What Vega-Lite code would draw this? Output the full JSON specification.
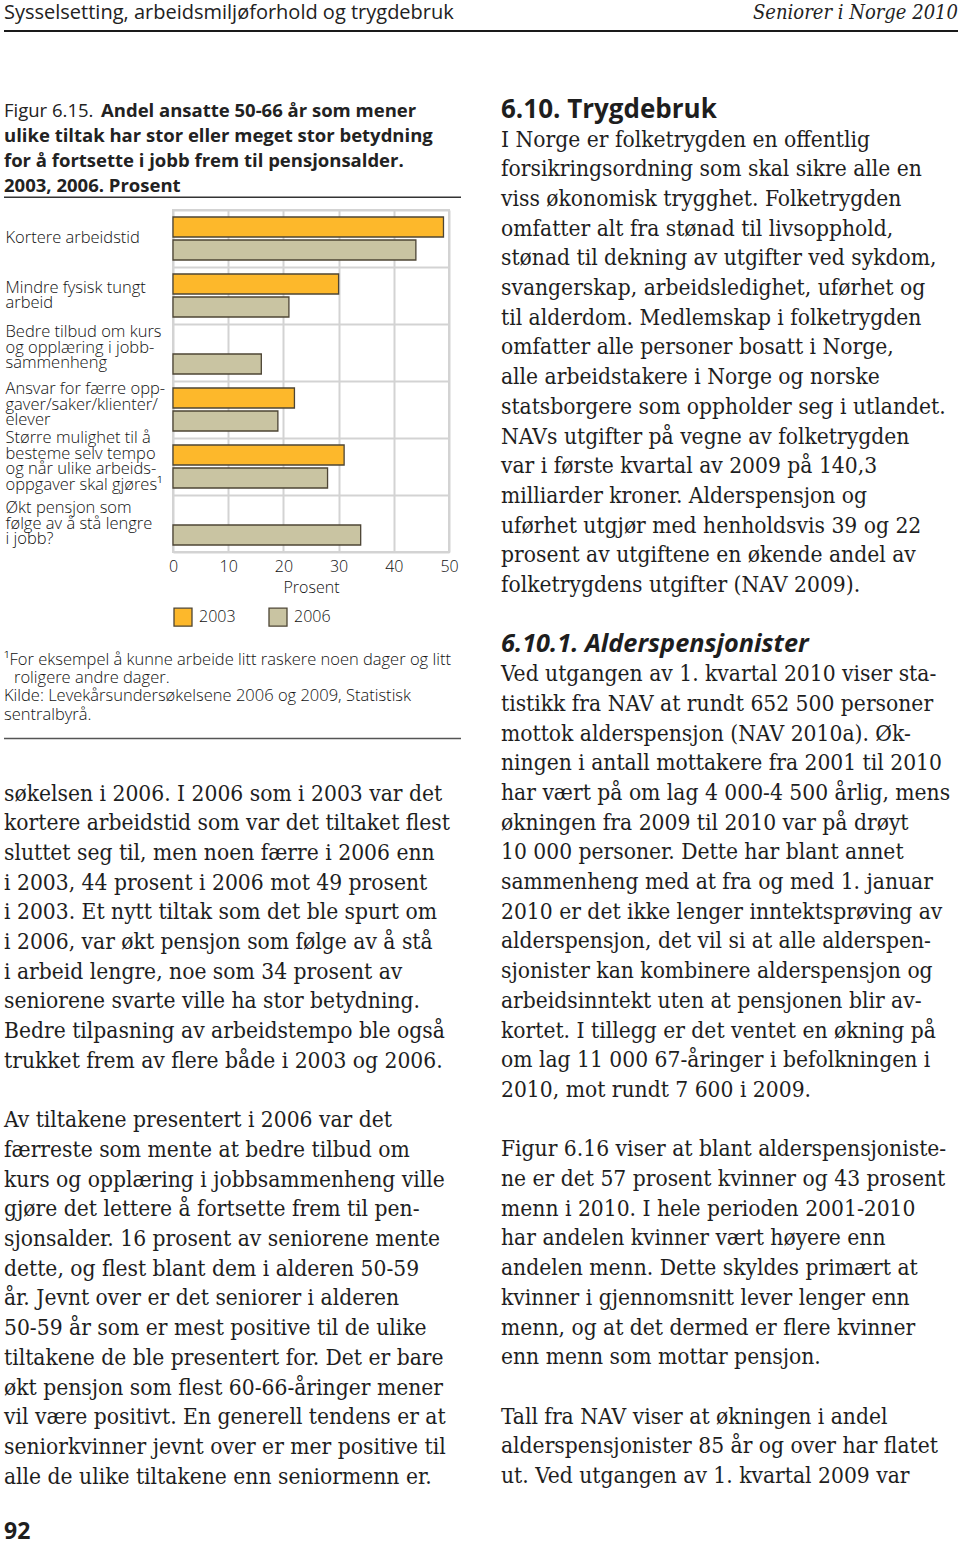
{
  "$schema": "https://vega.github.io/schema/vega-lite/v6.json",
  "padding": {"left": 3, "right": 3, "top": 0, "bottom": 0},
  "background": "white",
  "config": {"view": {"stroke": null}},
  "spacing": 63,
  "resolve": {"scale": {"color": "independent"}, "legend": {"color": "independent"}},
  "datasets": {
    "tiltak": [
      {"tiltak": "Kortere arbeidstid", "år": "2003", "prosent": 49},
      {"tiltak": "Kortere arbeidstid", "år": "2006", "prosent": 44},
      {"tiltak": "Mindre fysisk tungt|arbeid", "år": "2003", "prosent": 30},
      {"tiltak": "Mindre fysisk tungt|arbeid", "år": "2006", "prosent": 21},
      {"tiltak": "Bedre tilbud om kurs|og opplæring i jobb-|sammenheng", "år": "2006", "prosent": 16},
      {"tiltak": "Ansvar for færre opp-|gaver/saker/klienter/|elever", "år": "2003", "prosent": 22},
      {"tiltak": "Ansvar for færre opp-|gaver/saker/klienter/|elever", "år": "2006", "prosent": 19},
      {"tiltak": "Større mulighet til å|besteme selv tempo|og når ulike arbeids-|oppgaver skal gjøres¹", "år": "2003", "prosent": 31},
      {"tiltak": "Større mulighet til å|besteme selv tempo|og når ulike arbeids-|oppgaver skal gjøres¹", "år": "2006", "prosent": 28},
      {"tiltak": "Økt pensjon som|følge av å stå lengre|i jobb?", "år": "2006", "prosent": 34}
    ]
  },
  "vconcat": [
    {
      "width": 954,
      "height": 31,
      "data": {"values": [
        {"side": 0, "text": "Sysselsetting, arbeidsmiljøforhold og trygdebruk"},
        {"side": 1, "text": "Seniorer i Norge 2010"}
      ]},
      "layer": [
        {"transform": [{"filter": "datum.side == 0"}],
         "mark": {"type": "text", "align": "left", "baseline": "alphabetic", "dy": 3, "font": "Open Sans", "fontSize": 20, "color": "#222222"},
         "encoding": {
           "x": {"field": "side", "type": "quantitative", "scale": {"domain": [0, 1]}, "axis": null},
           "text": {"field": "text"}
         }},
        {"transform": [{"filter": "datum.side == 1"}],
         "mark": {"type": "text", "align": "right", "baseline": "alphabetic", "dy": 3, "font": "DejaVu Serif Condensed, DejaVu Serif", "fontStyle": "italic", "fontSize": 20, "color": "#222222"},
         "encoding": {
           "x": {"field": "side", "type": "quantitative", "scale": {"domain": [0, 1]}, "axis": null},
           "text": {"field": "text"}
         }},
        {"data": {"values": [{}]},
         "mark": {"type": "rule", "color": "#1a1a1a", "strokeWidth": 2},
         "encoding": {"y": {"value": "height"}}}
      ]
    },
    {
      "spacing": 39,
      "resolve": {"scale": {"color": "independent"}, "legend": {"color": "independent"}},
      "hconcat": [
        {
          "columns": 1,
          "align": "none",
          "spacing": 10,
          "resolve": {"scale": {"color": "independent"}, "legend": {"color": "independent"}},
          "concat": [
            {
              "width": 457,
              "height": 102.3,
              "data": {"values": [
                {"line": 1, "s": "r", "text": "Figur 6.15."},
                {"line": 1, "s": "b1", "text": "Andel ansatte 50-66 år som mener"},
                {"line": 2, "s": "b", "text": "ulike tiltak har stor eller meget stor betydning"},
                {"line": 3, "s": "b", "text": "for å fortsette i jobb frem til pensjonsalder."},
                {"line": 4, "s": "b", "text": "2003, 2006. Prosent"}
              ]},
              "layer": [
                {"transform": [{"filter": "datum.s == 'r'"}],
                 "mark": {"type": "text", "align": "left", "baseline": "alphabetic", "dy": 8, "font": "Open Sans", "fontSize": 18.5, "color": "#222222"},
                 "encoding": {
                   "x": {"datum": 0, "type": "quantitative", "scale": {"domain": [0, 1]}, "axis": null},
                   "y": {"field": "line", "type": "ordinal", "scale": {"type": "point", "domain": [1, 2, 3, 4], "padding": 0.546}, "axis": null},
                   "text": {"field": "text"}
                 }},
                {"transform": [{"filter": "datum.s == 'b1'"}],
                 "mark": {"type": "text", "align": "left", "baseline": "alphabetic", "dy": 8, "dx": 97, "font": "Open Sans", "fontWeight": "bold", "fontSize": 18.5, "color": "#222222"},
                 "encoding": {
                   "x": {"datum": 0, "type": "quantitative", "scale": {"domain": [0, 1]}, "axis": null},
                   "y": {"field": "line", "type": "ordinal", "scale": {"type": "point", "domain": [1, 2, 3, 4], "padding": 0.546}, "axis": null},
                   "text": {"field": "text"}
                 }},
                {"transform": [{"filter": "datum.s == 'b'"}],
                 "mark": {"type": "text", "align": "left", "baseline": "alphabetic", "dy": 8, "font": "Open Sans", "fontWeight": "bold", "fontSize": 18.5, "color": "#222222"},
                 "encoding": {
                   "x": {"datum": 0, "type": "quantitative", "scale": {"domain": [0, 1]}, "axis": null},
                   "y": {"field": "line", "type": "ordinal", "scale": {"type": "point", "domain": [1, 2, 3, 4], "padding": 0.546}, "axis": null},
                   "text": {"field": "text"}
                 }},
                {"data": {"values": [{}]},
                 "mark": {"type": "rule", "color": "#333333", "strokeWidth": 1.5},
                 "encoding": {"y": {"value": "height"}}}
              ]
            },
            {
              "spacing": 0,
              "resolve": {"scale": {"color": "independent"}, "legend": {"color": "independent"}},
              "hconcat": [
                {
                  "width": 162.5,
                  "height": 342,
                  "data": {"name": "tiltak"},
                  "mark": {"type": "point", "opacity": 0},
                  "encoding": {
                    "y": {
                      "field": "tiltak", "type": "nominal",
                      "sort": [
                        "Kortere arbeidstid",
                        "Mindre fysisk tungt|arbeid",
                        "Bedre tilbud om kurs|og opplæring i jobb-|sammenheng",
                        "Ansvar for færre opp-|gaver/saker/klienter/|elever",
                        "Større mulighet til å|besteme selv tempo|og når ulike arbeids-|oppgaver skal gjøres¹",
                        "Økt pensjon som|følge av å stå lengre|i jobb?"
                      ],
                      "scale": {"type": "band", "paddingInner": 0, "paddingOuter": 0},
                      "axis": {
                        "title": null, "domain": false, "ticks": false, "tickSize": 0, "grid": false,
                        "labelAlign": "left", "labelBaseline": "middle", "labelPadding": -1,
                        "labelExpr": "split(datum.label, '|')", "labelLineHeight": 15.5,
                        "labelOffset": {"expr": "-(length(split(datum.value, '|')) - 1) * 7.75 + (length(split(datum.value, '|')) == 1 ? -1 : length(split(datum.value, '|')) == 2 ? 0 : indexof(datum.value, 'Økt') == 0 ? 0 : -5)"},
                        "labelFont": "Open Sans", "labelFontWeight": 300, "labelFontSize": 16.5, "labelColor": "#111111", "labelLimit": 0
                      }
                    }
                  }
                },
                {
                  "width": 276,
                  "height": 342,
                  "view": {"stroke": "#d3d3d3", "strokeWidth": 2},
                  "data": {"name": "tiltak"},
                  "mark": {"type": "bar", "stroke": "#4d4535", "strokeWidth": 1.3},
                  "encoding": {
                    "y": {
                      "field": "tiltak", "type": "nominal",
                      "sort": [
                        "Kortere arbeidstid",
                        "Mindre fysisk tungt|arbeid",
                        "Bedre tilbud om kurs|og opplæring i jobb-|sammenheng",
                        "Ansvar for færre opp-|gaver/saker/klienter/|elever",
                        "Større mulighet til å|besteme selv tempo|og når ulike arbeids-|oppgaver skal gjøres¹",
                        "Økt pensjon som|følge av å stå lengre|i jobb?"
                      ],
                      "scale": {"paddingInner": 0, "paddingOuter": 0},
                      "axis": {
                        "title": null, "domain": false, "ticks": false, "tickSize": 0, "tickBand": "extent",
                        "labels": false, "labelPadding": 0, "minExtent": 0, "maxExtent": 0,
                        "grid": true, "gridColor": "#d3d3d3", "gridWidth": 2
                      }
                    },
                    "yOffset": {"field": "år", "type": "nominal", "sort": ["2003", "2006"], "scale": {"domain": ["2003", "2006"], "paddingInner": 0.13, "paddingOuter": 0.304}},
                    "x": {
                      "field": "prosent", "type": "quantitative",
                      "scale": {"domain": [0, 50]},
                      "axis": {
                        "title": "Prosent", "values": [0, 10, 20, 30, 40, 50],
                        "domain": false, "ticks": false, "tickSize": 0,
                        "grid": true, "gridColor": "#d3d3d3", "gridWidth": 2,
                        "labelFlush": false, "labelPadding": 6,
                        "labelFont": "Open Sans", "labelFontWeight": 300, "labelFontSize": 16, "labelColor": "#111111",
                        "titleFont": "Open Sans", "titleFontWeight": 300, "titleFontSize": 16, "titleColor": "#111111", "titlePadding": 5
                      }
                    },
                    "color": {
                      "field": "år", "type": "nominal",
                      "scale": {"domain": ["2003", "2006"], "range": ["#fdb82b", "#c9c4a2"]},
                      "legend": {
                        "orient": "bottom", "direction": "horizontal", "title": null,
                        "symbolType": "square", "symbolSize": 324, "symbolStrokeColor": "#4d4535", "symbolStrokeWidth": 1.3, "symbolOpacity": 1,
                        "labelFont": "Open Sans", "labelFontWeight": 300, "labelFontSize": 16, "labelColor": "#111111",
                        "labelOffset": 6, "columnPadding": 30, "offset": 12, "padding": 0
                      }
                    }
                  }
                }
              ]
            },
            {
              "width": 457,
              "height": 98.4,
              "data": {"values": [
                {"line": 1, "s": "n", "text": "¹For eksempel å kunne arbeide litt raskere noen dager og litt"},
                {"line": 2, "s": "i", "text": "roligere andre dager."},
                {"line": 3, "s": "n", "text": "Kilde: Levekårsundersøkelsene 2006 og 2009, Statistisk"},
                {"line": 4, "s": "n", "text": "sentralbyrå."}
              ]},
              "layer": [
                {"transform": [{"filter": "datum.s == 'n'"}],
                 "mark": {"type": "text", "align": "left", "baseline": "middle", "font": "Open Sans", "fontWeight": 300, "fontSize": 16.5, "color": "#111111"},
                 "encoding": {
                   "x": {"datum": 0, "type": "quantitative", "scale": {"domain": [0, 1]}, "axis": null},
                   "y": {"field": "line", "type": "quantitative", "scale": {"domain": [-0.0747, 5.2936], "reverse": true, "nice": false, "zero": false}, "axis": null},
                   "text": {"field": "text"}
                 }},
                {"transform": [{"filter": "datum.s == 'i'"}],
                 "mark": {"type": "text", "align": "left", "baseline": "middle", "dx": 10, "font": "Open Sans", "fontWeight": 300, "fontSize": 16.5, "color": "#111111"},
                 "encoding": {
                   "x": {"datum": 0, "type": "quantitative", "scale": {"domain": [0, 1]}, "axis": null},
                   "y": {"field": "line", "type": "quantitative", "scale": {"domain": [-0.0747, 5.2936], "reverse": true, "nice": false, "zero": false}, "axis": null},
                   "text": {"field": "text"}
                 }},
                {"data": {"values": [{}]},
                 "mark": {"type": "rule", "color": "#555555", "strokeWidth": 1.5},
                 "encoding": {"y": {"value": "height"}}}
              ]
            },
            {
              "width": 457,
              "height": 751.55,
              "data": {"values": [
                {"line": 23, "text": "søkelsen i 2006. I 2006 som i 2003 var det"},
                {"line": 24, "text": "kortere arbeidstid som var det tiltaket flest"},
                {"line": 25, "text": "sluttet seg til, men noen færre i 2006 enn"},
                {"line": 26, "text": "i 2003, 44 prosent i 2006 mot 49 prosent"},
                {"line": 27, "text": "i 2003. Et nytt tiltak som det ble spurt om"},
                {"line": 28, "text": "i 2006, var økt pensjon som følge av å stå"},
                {"line": 29, "text": "i arbeid lengre, noe som 34 prosent av"},
                {"line": 30, "text": "seniorene svarte ville ha stor betydning."},
                {"line": 31, "text": "Bedre tilpasning av arbeidstempo ble også"},
                {"line": 32, "text": "trukket frem av flere både i 2003 og 2006."},
                {"line": 34, "text": "Av tiltakene presentert i 2006 var det"},
                {"line": 35, "text": "færreste som mente at bedre tilbud om"},
                {"line": 36, "text": "kurs og opplæring i jobbsammenheng ville"},
                {"line": 37, "text": "gjøre det lettere å fortsette frem til pen-"},
                {"line": 38, "text": "sjonsalder. 16 prosent av seniorene mente"},
                {"line": 39, "text": "dette, og flest blant dem i alderen 50-59"},
                {"line": 40, "text": "år. Jevnt over er det seniorer i alderen"},
                {"line": 41, "text": "50-59 år som er mest positive til de ulike"},
                {"line": 42, "text": "tiltakene de ble presentert for. Det er bare"},
                {"line": 43, "text": "økt pensjon som flest 60-66-åringer mener"},
                {"line": 44, "text": "vil være positivt. En generell tendens er at"},
                {"line": 45, "text": "seniorkvinner jevnt over er mer positive til"},
                {"line": 46, "text": "alle de ulike tiltakene enn seniormenn er."}
              ]},
              "mark": {"type": "text", "align": "left", "baseline": "middle", "font": "DejaVu Serif Condensed, DejaVu Serif", "fontSize": 22.6, "color": "#1e1e1e"},
              "encoding": {
                "x": {"datum": 0, "type": "quantitative", "scale": {"domain": [0, 1]}, "axis": null},
                "y": {"field": "line", "type": "quantitative", "scale": {"domain": [21.5337, 46.8384], "reverse": true, "nice": false, "zero": false}, "axis": null},
                "text": {"field": "text"}
              }
            },
            {
              "width": 457,
              "height": 30,
              "data": {"values": [{"text": "92"}]},
              "mark": {"type": "text", "align": "left", "baseline": "middle", "dy": 5, "font": "Open Sans", "fontWeight": "bold", "fontSize": 23, "color": "#1e1e1e"},
              "encoding": {
                "x": {"datum": 0, "type": "quantitative", "scale": {"domain": [0, 1]}, "axis": null},
                "text": {"field": "text"}
              }
            }
          ]
        },
        {
          "width": 456,
          "height": {"step": 29.7},
          "data": {"values": [
            {"line": 0, "s": "h", "text": "6.10. Trygdebruk"},
            {"line": 1, "text": "I Norge er folketrygden en offentlig"},
            {"line": 2, "text": "forsikringsordning som skal sikre alle en"},
            {"line": 3, "text": "viss økonomisk trygghet. Folketrygden"},
            {"line": 4, "text": "omfatter alt fra stønad til livsopphold,"},
            {"line": 5, "text": "stønad til dekning av utgifter ved sykdom,"},
            {"line": 6, "text": "svangerskap, arbeidsledighet, uførhet og"},
            {"line": 7, "text": "til alderdom. Medlemskap i folketrygden"},
            {"line": 8, "text": "omfatter alle personer bosatt i Norge,"},
            {"line": 9, "text": "alle arbeidstakere i Norge og norske"},
            {"line": 10, "text": "statsborgere som oppholder seg i utlandet."},
            {"line": 11, "text": "NAVs utgifter på vegne av folketrygden"},
            {"line": 12, "text": "var i første kvartal av 2009 på 140,3"},
            {"line": 13, "text": "milliarder kroner. Alderspensjon og"},
            {"line": 14, "text": "uførhet utgjør med henholdsvis 39 og 22"},
            {"line": 15, "text": "prosent av utgiftene en økende andel av"},
            {"line": 16, "text": "folketrygdens utgifter (NAV 2009)."},
            {"line": 18, "s": "hi", "text": "6.10.1. Alderspensjonister"},
            {"line": 19, "text": "Ved utgangen av 1. kvartal 2010 viser sta-"},
            {"line": 20, "text": "tistikk fra NAV at rundt 652 500 personer"},
            {"line": 21, "text": "mottok alderspensjon (NAV 2010a). Øk-"},
            {"line": 22, "text": "ningen i antall mottakere fra 2001 til 2010"},
            {"line": 23, "text": "har vært på om lag 4 000-4 500 årlig, mens"},
            {"line": 24, "text": "økningen fra 2009 til 2010 var på drøyt"},
            {"line": 25, "text": "10 000 personer. Dette har blant annet"},
            {"line": 26, "text": "sammenheng med at fra og med 1. januar"},
            {"line": 27, "text": "2010 er det ikke lenger inntektsprøving av"},
            {"line": 28, "text": "alderspensjon, det vil si at alle alderspen-"},
            {"line": 29, "text": "sjonister kan kombinere alderspensjon og"},
            {"line": 30, "text": "arbeidsinntekt uten at pensjonen blir av-"},
            {"line": 31, "text": "kortet. I tillegg er det ventet en økning på"},
            {"line": 32, "text": "om lag 11 000 67-åringer i befolkningen i"},
            {"line": 33, "text": "2010, mot rundt 7 600 i 2009."},
            {"line": 35, "text": "Figur 6.16 viser at blant alderspensjoniste-"},
            {"line": 36, "text": "ne er det 57 prosent kvinner og 43 prosent"},
            {"line": 37, "text": "menn i 2010. I hele perioden 2001-2010"},
            {"line": 38, "text": "har andelen kvinner vært høyere enn"},
            {"line": 39, "text": "andelen menn. Dette skyldes primært at"},
            {"line": 40, "text": "kvinner i gjennomsnitt lever lenger enn"},
            {"line": 41, "text": "menn, og at det dermed er flere kvinner"},
            {"line": 42, "text": "enn menn som mottar pensjon."},
            {"line": 44, "text": "Tall fra NAV viser at økningen i andel"},
            {"line": 45, "text": "alderspensjonister 85 år og over har flatet"},
            {"line": 46, "text": "ut. Ved utgangen av 1. kvartal 2009 var"}
          ]},
          "encoding": {
            "x": {"datum": 0, "type": "quantitative", "scale": {"domain": [0, 1]}, "axis": null},
            "y": {"field": "line", "type": "ordinal", "scale": {"type": "point", "domain": [0, 1, 2, 3, 4, 5, 6, 7, 8, 9, 10, 11, 12, 13, 14, 15, 16, 17, 18, 19, 20, 21, 22, 23, 24, 25, 26, 27, 28, 29, 30, 31, 32, 33, 34, 35, 36, 37, 38, 39, 40, 41, 42, 43, 44, 45, 46]}, "axis": null},
            "text": {"field": "text"}
          },
          "layer": [
            {"transform": [{"filter": "!datum.s"}],
             "mark": {"type": "text", "align": "left", "baseline": "middle", "font": "DejaVu Serif Condensed, DejaVu Serif", "fontSize": 22.6, "color": "#1e1e1e"}},
            {"transform": [{"filter": "datum.s == 'h'"}],
             "mark": {"type": "text", "align": "left", "baseline": "middle", "font": "Open Sans", "fontWeight": "bold", "fontSize": 26, "color": "#1e1e1e"}},
            {"transform": [{"filter": "datum.s == 'hi'"}],
             "mark": {"type": "text", "align": "left", "baseline": "middle", "font": "Open Sans", "fontWeight": "bold", "fontStyle": "italic", "fontSize": 25.3, "color": "#1e1e1e"}}
          ]
        }
      ]
    }
  ]
}
